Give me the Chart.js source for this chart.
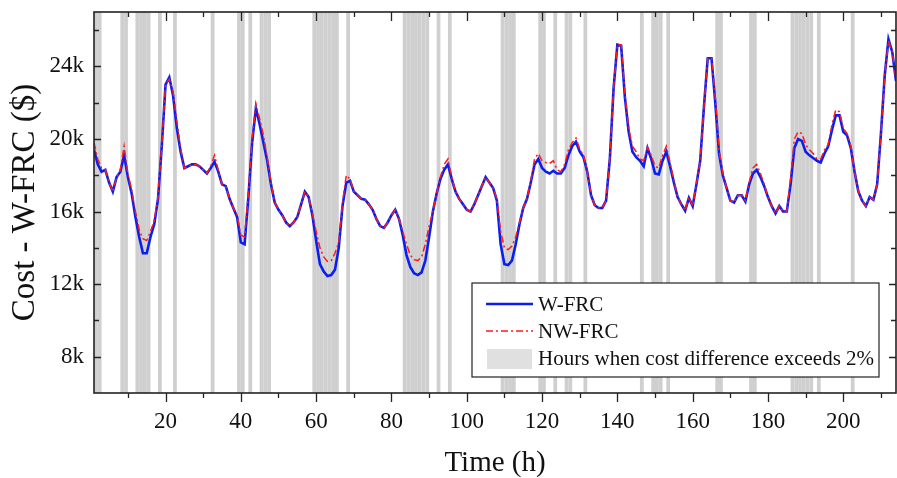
<!DOCTYPE html>
<html>
<head>
<meta charset="utf-8">
<script src="https://cdn.jsdelivr.net/npm/chart.js@4.4.1/dist/chart.umd.min.js"></script>
<style>
  html, body { margin: 0; padding: 0; background: #fff; }
</style>
</head>
<body>
<canvas id="chart" width="897" height="478"></canvas>
<script>
// hourly cost in k$, hour 1..214
const wFrc = [
  19.4, 18.6, 18.2, 18.3, 17.6, 17.1, 17.9, 18.2, 19.1, 17.9,
  17.0, 15.7, 14.6, 13.7, 13.7, 14.6, 15.3, 16.7, 19.6, 23.0,
  23.4, 22.4, 20.6, 19.3, 18.4, 18.5, 18.6, 18.6, 18.5, 18.3,
  18.1, 18.4, 18.75, 18.2, 17.5, 17.4, 16.7, 16.2, 15.7, 14.3,
  14.2, 16.8, 19.8, 21.7, 20.8, 19.8, 18.8, 17.5, 16.5, 16.1,
  15.8, 15.4, 15.2, 15.4, 15.7, 16.4, 17.1, 16.8, 15.8, 14.4,
  13.1, 12.7, 12.45, 12.5, 12.8, 14.0, 16.3, 17.6, 17.7, 17.1,
  16.9, 16.7, 16.65, 16.4, 16.1, 15.6, 15.2, 15.1, 15.4, 15.8,
  16.1, 15.6, 14.7, 13.6, 12.95, 12.6, 12.5, 12.65, 13.3, 14.6,
  16.0, 17.0, 17.8, 18.3, 18.6, 17.8, 17.1, 16.7, 16.4, 16.1,
  16.0, 16.4, 16.9, 17.4, 17.9, 17.6, 17.3, 16.6, 14.2, 13.1,
  13.05, 13.3, 14.2, 15.3, 16.2, 16.7, 17.6, 18.6, 18.9, 18.4,
  18.2, 18.1, 18.25, 18.1, 18.1, 18.4, 19.1, 19.6, 19.85, 19.3,
  19.0, 18.2, 16.9, 16.35, 16.2, 16.2, 16.6, 18.9, 22.8, 25.2,
  25.15, 22.3, 20.4, 19.3, 19.0, 18.8, 18.5, 19.5, 18.9, 18.1,
  18.05, 18.8, 19.3, 18.5, 17.6, 16.8, 16.4, 16.05, 16.75, 16.3,
  17.5, 18.8, 21.8, 24.45, 24.45, 22.0, 19.2, 18.0, 17.3, 16.6,
  16.5, 16.9, 16.9, 16.55, 17.5, 18.1, 18.3, 17.9, 17.4, 16.8,
  16.3, 15.9, 16.3, 16.0, 16.0, 17.5, 19.5, 20.0, 19.9, 19.3,
  19.1, 18.95, 18.8, 18.7, 19.2, 19.6, 20.5, 21.3, 21.3, 20.4,
  20.2, 19.5, 18.2, 17.1, 16.6, 16.3, 16.8, 16.65, 17.5, 20.3,
  23.5, 25.5, 24.8, 23.2
];

const nwFrc = [
  19.8, 18.9, 18.4, 18.3, 17.6, 17.1, 17.9, 18.3, 19.6, 18.1,
  17.2, 16.0, 15.0, 14.5, 14.4, 14.9, 15.5, 16.8, 19.7, 23.0,
  23.3, 22.6, 21.0, 19.5, 18.4, 18.5, 18.6, 18.6, 18.5, 18.3,
  18.1, 18.5, 19.1, 18.3, 17.5, 17.4, 16.7, 16.2, 15.8, 14.7,
  14.6, 17.0, 20.0, 21.95, 21.1, 20.2, 19.0, 17.6, 16.5, 16.1,
  15.8, 15.4, 15.2, 15.4, 15.7, 16.4, 17.1, 16.8, 15.9, 14.9,
  14.0, 13.5, 13.25, 13.3, 13.7, 14.3, 16.5, 18.0, 17.8, 17.1,
  16.9, 16.7, 16.65, 16.4, 16.1, 15.6, 15.2, 15.1, 15.4, 15.8,
  16.1, 15.6, 14.9, 14.2, 13.6, 13.35, 13.3, 13.5, 14.2, 15.2,
  16.0, 17.0, 17.9, 18.6, 18.9, 17.9, 17.1, 16.7, 16.4, 16.1,
  16.0, 16.4, 16.9, 17.4, 17.9, 17.6, 17.3, 16.7, 14.9, 14.0,
  13.9, 14.1, 14.6, 15.4, 16.2, 16.7, 17.7, 18.9, 19.2, 18.8,
  18.7, 18.65, 18.8, 18.3, 18.2, 18.6, 19.4, 19.8, 20.05, 19.45,
  19.1, 18.2, 16.9, 16.35, 16.2, 16.2, 16.6, 19.0, 22.8, 25.2,
  25.2, 22.5, 20.6, 19.6, 19.3, 18.9, 18.8, 19.55, 19.1, 18.5,
  18.4, 19.1, 19.6, 18.7, 17.7, 16.8, 16.4, 16.05, 16.8, 16.3,
  17.5, 18.8, 21.8, 24.45, 24.45, 22.3, 19.4, 18.1, 17.3, 16.6,
  16.5, 16.9, 16.9, 16.6, 17.6, 18.4, 18.6, 18.1, 17.5, 16.8,
  16.3, 15.9, 16.3, 16.0, 16.0, 17.8, 20.0, 20.4, 20.3, 19.7,
  19.4, 19.2, 18.9, 18.9, 19.4, 19.7, 20.8, 21.6, 21.5, 20.6,
  20.3, 19.6, 18.2, 17.1, 16.6, 16.3, 16.8, 16.65, 17.5, 20.3,
  23.5, 25.4, 24.8, 23.3
];

// hours (h .. h+1) where the cost difference exceeds 2%
const bandHours = [
  1, 2, 8, 9, 12, 13, 14, 15, 18, 22, 32, 39, 40, 42, 45, 46, 47,
  59, 60, 61, 62, 63, 64, 65, 68, 83, 84, 85, 86, 87, 88, 89, 92, 95,
  109, 110, 111, 112, 119, 120, 123, 126, 127, 131, 146, 149, 150, 151, 153,
  166, 167, 175, 176, 186, 187, 188, 189, 190, 191, 193, 202
];

const xTickLabels = [20, 40, 60, 80, 100, 120, 140, 160, 180, 200];
const yTickLabels = [8, 12, 16, 20, 24];

const hours = wFrc.map((_, i) => i + 1);

const FONT = '"Liberation Serif", "Times New Roman", serif';

// grey bands behind the curves
const bandsPlugin = {
  id: 'bands',
  beforeDatasetsDraw(chart) {
    const { ctx, chartArea, scales } = chart;
    ctx.save();
    ctx.beginPath();
    ctx.rect(chartArea.left, chartArea.top, chartArea.right - chartArea.left, chartArea.bottom - chartArea.top);
    ctx.clip();
    ctx.fillStyle = '#cfcfcf';
    bandHours.forEach(h => {
      const x0 = scales.x.getPixelForValue(h);
      const x1 = scales.x.getPixelForValue(h + 1);
      ctx.fillRect(x0, chartArea.top, x1 - x0, chartArea.bottom - chartArea.top);
    });
    ctx.restore();
  }
};

// frame, tick marks and the boxed legend
const framePlugin = {
  id: 'frame',
  afterDraw(chart) {
    const { ctx, chartArea: a, scales } = chart;
    ctx.save();
    ctx.strokeStyle = '#222';
    ctx.lineWidth = 1.3;

    ctx.beginPath();
    for (let v = 10; v <= 210; v += 10) {
      const x = Math.round(scales.x.getPixelForValue(v)) + 0.5;
      const len = v % 20 === 0 ? 9 : 5;
      ctx.moveTo(x, a.bottom); ctx.lineTo(x, a.bottom + len);
      ctx.moveTo(x, a.top); ctx.lineTo(x, a.top + len);
    }
    for (let v = 8; v <= 26; v += 2) {
      const y = Math.round(scales.y.getPixelForValue(v)) + 0.5;
      const len = v % 4 === 0 ? 7 : 5;
      ctx.moveTo(a.left, y); ctx.lineTo(a.left + len, y);
      ctx.moveTo(a.right, y); ctx.lineTo(a.right - len, y);
    }
    ctx.stroke();

    ctx.lineWidth = 1.6;
    ctx.strokeRect(a.left, a.top, a.right - a.left, a.bottom - a.top);

    // legend box
    const bx = a.left + 378, by = a.top + 271, bw = 407, bh = 94;
    ctx.fillStyle = '#fff';
    ctx.fillRect(bx, by, bw, bh);
    ctx.lineWidth = 1.2;
    ctx.strokeRect(bx, by, bw, bh);

    ctx.lineWidth = 2.5;
    ctx.strokeStyle = '#0a1ef0';
    ctx.beginPath(); ctx.moveTo(bx + 14, by + 21); ctx.lineTo(bx + 61, by + 21); ctx.stroke();

    ctx.lineWidth = 1.5;
    ctx.strokeStyle = '#ff1a1a';
    ctx.setLineDash([7, 3, 2, 3]);
    ctx.beginPath(); ctx.moveTo(bx + 14, by + 48); ctx.lineTo(bx + 61, by + 48); ctx.stroke();
    ctx.setLineDash([]);

    ctx.fillStyle = '#e0e0e0';
    ctx.fillRect(bx + 15, by + 66, 45, 20);

    ctx.fillStyle = '#111';
    ctx.font = '21px ' + FONT;
    ctx.textBaseline = 'middle';
    ctx.fillText('W-FRC', bx + 66, by + 22);
    ctx.fillText('NW-FRC', bx + 66, by + 49);
    ctx.fillText('Hours when cost difference exceeds 2%', bx + 66, by + 76);
    ctx.restore();
  }
};

new Chart(document.getElementById('chart'), {
  type: 'line',
  data: {
    labels: hours,
    datasets: [
      {
        label: 'W-FRC',
        data: wFrc,
        borderColor: '#0a1ef0',
        borderWidth: 2.6,
        pointRadius: 0,
        order: 2
      },
      {
        label: 'NW-FRC',
        data: nwFrc,
        borderColor: '#ff1a1a',
        borderWidth: 1.5,
        borderDash: [7, 3, 2, 3],
        pointRadius: 0,
        order: 1
      }
    ]
  },
  options: {
    responsive: false,
    animation: false,
    devicePixelRatio: 1,
    layout: { padding: { top: 12, right: 1, left: 0, bottom: 0 } },
    plugins: {
      legend: { display: false },
      tooltip: { enabled: false }
    },
    scales: {
      x: {
        type: 'linear',
        min: 1,
        max: 214,
        grid: { display: false, drawTicks: false },
        border: { display: false },
        afterBuildTicks: s => { s.ticks = xTickLabels.map(v => ({ value: v })); },
        afterFit: s => { s.height = 85; s.paddingLeft = 0; s.paddingRight = 0; },
        ticks: {
          padding: 15,
          color: '#111',
          maxRotation: 0,
          font: { family: FONT, size: 23 }
        },
        title: {
          display: true,
          text: 'Time (h)',
          color: '#111',
          padding: { top: 0, bottom: 0 },
          font: { family: FONT, size: 29, lineHeight: 1 }
        }
      },
      y: {
        min: 6,
        max: 27,
        grid: { display: false, drawTicks: false },
        border: { display: false },
        afterBuildTicks: s => { s.ticks = yTickLabels.map(v => ({ value: v })); },
        afterFit: s => { s.width = 94; s.paddingTop = 0; s.paddingBottom = 0; },
        ticks: {
          padding: 10,
          color: '#111',
          font: { family: FONT, size: 23 },
          callback: v => v + 'k'
        },
        title: {
          display: true,
          text: 'Cost - W-FRC ($)',
          color: '#111',
          padding: { top: 6, bottom: 0 },
          font: { family: FONT, size: 33 }
        }
      }
    }
  },
  plugins: [bandsPlugin, framePlugin]
});
</script>
</body>
</html>
